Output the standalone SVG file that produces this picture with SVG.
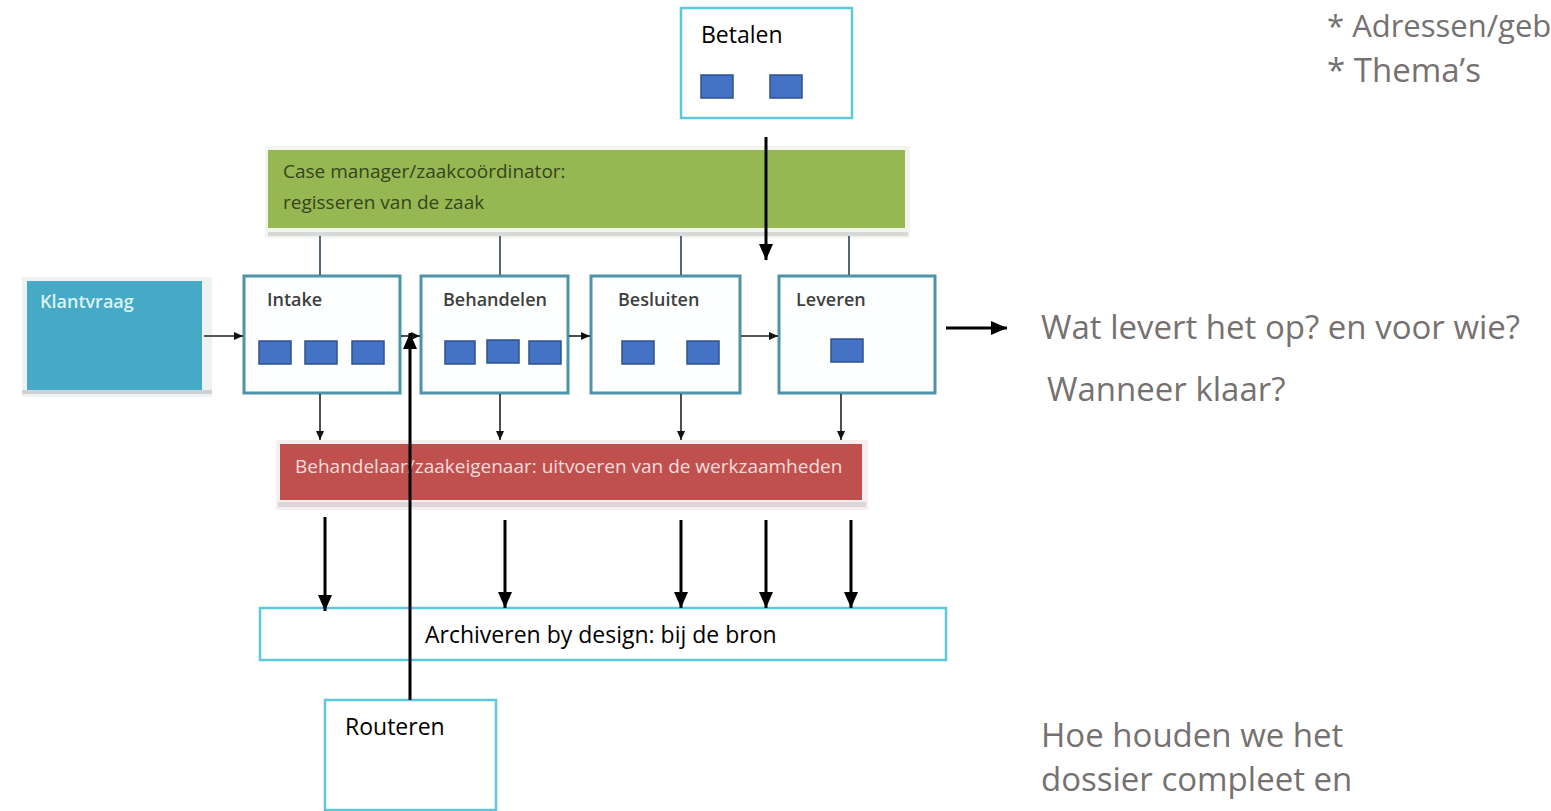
<svg xmlns="http://www.w3.org/2000/svg" width="1551" height="811" viewBox="0 0 1551 811">
<defs>
<marker id="big" markerUnits="userSpaceOnUse" markerWidth="16" markerHeight="18" refX="16" refY="7" orient="auto"><path d="M0,0 L16,7 L0,14 z" fill="#000"/></marker>
<marker id="small" markerUnits="userSpaceOnUse" markerWidth="10" markerHeight="10" refX="9" refY="4" orient="auto"><path d="M0,0 L9,4 L0,8 z" fill="#111"/></marker>
<style>
.proc{fill:#fdfefe;stroke:#4f93a8;stroke-width:3}
.sq{fill:#4472c4;stroke:#2f528f;stroke-width:1.5}
.lbl{font-family:"Open Sans","Liberation Sans",sans-serif;font-size:18px;fill:#3f3f3f;font-weight:600}
.cyan{fill:#fff;stroke:#5bc8dc;stroke-width:2.5}
.blk{font-family:"Open Sans","Liberation Sans",sans-serif;font-size:23px;fill:#000}
.gray{font-family:"Open Sans","Liberation Sans",sans-serif;font-size:33px;fill:#767171}
.bar{font-family:"Open Sans","Liberation Sans",sans-serif;font-size:19px}
.thin{stroke:#222;stroke-width:1.6;fill:none}
.vl{stroke:#55677a;stroke-width:2;fill:none}
.thick{stroke:#000;stroke-width:3;fill:none}
</style>
</defs>
<rect width="1551" height="811" fill="#fff"/>
<g id="manager">
<rect x="265" y="146" width="645" height="92" fill="#f2f4ee"/>
<rect x="268" y="232" width="640" height="4" fill="#d6d9d6"/>
<rect x="268" y="150" width="637" height="78" fill="#97b753"/>
<text class="bar" x="283" y="178" fill="#34451c">Case manager/zaakcoördinator:</text>
<text class="bar" x="283" y="209" fill="#34451c">regisseren van de zaak</text>
</g>
<g id="klantvraag">
<rect x="22" y="277" width="190" height="120" fill="#eef2f4"/>
<rect x="22" y="390" width="190" height="4" fill="#cfd3d6"/>
<rect x="27" y="281" width="175" height="109" fill="#46a9c6"/>
<text x="40" y="308" style="font-family:'Open Sans','Liberation Sans',sans-serif;font-size:18px;fill:#dff2f7;font-weight:600">Klantvraag</text>
</g>
<g id="intake">
<rect class="proc" x="244" y="276" width="156" height="117"/>
<text class="lbl" x="267" y="306">Intake</text>
<rect class="sq" x="259" y="341" width="32" height="23"/>
<rect class="sq" x="305" y="341" width="32" height="23"/>
<rect class="sq" x="352" y="341" width="32" height="23"/>
</g>
<g id="behandelen">
<rect class="proc" x="421" y="276" width="147" height="117"/>
<text class="lbl" x="443" y="306">Behandelen</text>
<rect class="sq" x="445" y="341" width="30" height="23"/>
<rect class="sq" x="487" y="340" width="32" height="23"/>
<rect class="sq" x="529" y="341" width="32" height="23"/>
</g>
<g id="besluiten">
<rect class="proc" x="591" y="276" width="149" height="117"/>
<text class="lbl" x="618" y="306">Besluiten</text>
<rect class="sq" x="622" y="341" width="32" height="23"/>
<rect class="sq" x="687" y="341" width="32" height="23"/>
</g>
<g id="leveren">
<rect class="proc" x="779" y="276" width="156" height="117"/>
<text class="lbl" x="796" y="306">Leveren</text>
<rect class="sq" x="831" y="339" width="32" height="23"/>
</g>
<g id="behandelaar">
<rect x="276" y="440" width="592" height="70" fill="#f6eeee"/>
<rect x="278" y="502" width="588" height="5" fill="#ddd6d6"/>
<rect x="280" y="444" width="582" height="56" fill="#c0504d"/>
<text class="bar" x="295" y="473" fill="#f6dcdc">Behandelaar/zaakeigenaar: uitvoeren van de werkzaamheden</text>
</g>
<g id="betalen">
<rect class="cyan" x="681" y="8" width="171" height="110"/>
<text class="blk" x="701" y="43">Betalen</text>
<rect class="sq" x="701" y="75" width="32" height="23"/>
<rect class="sq" x="770" y="75" width="32" height="23"/>
</g>
<g id="archiveren">
<rect class="cyan" x="260" y="608" width="686" height="52"/>
<text class="blk" x="425" y="643">Archiveren by design: bij de bron</text>
</g>
<g id="routeren">
<rect class="cyan" x="325" y="700" width="171" height="110"/>
<text class="blk" x="345" y="735">Routeren</text>
</g>
<g id="notes">
<text class="gray" x="1327" y="37" style="font-size:31px">* Adressen/geb</text>
<text class="gray" x="1327" y="82">* Thema’s</text>
<text class="gray" x="1041" y="339">Wat levert het op? en voor wie?</text>
<text class="gray" x="1047" y="401">Wanneer klaar?</text>
<text class="gray" x="1041" y="747">Hoe houden we het</text>
<text class="gray" x="1041" y="791">dossier compleet en</text>
</g>
<g id="connectors">
<line class="vl" x1="320" y1="236" x2="320" y2="275"/>
<line class="vl" x1="500" y1="236" x2="500" y2="275"/>
<line class="vl" x1="681" y1="236" x2="681" y2="275"/>
<line class="vl" x1="849" y1="236" x2="849" y2="275"/>
<line class="thin" x1="204" y1="336" x2="243" y2="336" marker-end="url(#small)"/>
<line class="thin" x1="401" y1="336" x2="420" y2="336" marker-end="url(#small)"/>
<line class="thin" x1="569" y1="336" x2="590" y2="336" marker-end="url(#small)"/>
<line class="thin" x1="741" y1="336" x2="778" y2="336" marker-end="url(#small)"/>
<line class="thin" x1="320" y1="394" x2="320" y2="440" marker-end="url(#small)"/>
<line class="thin" x1="500" y1="394" x2="500" y2="440" marker-end="url(#small)"/>
<line class="thin" x1="681" y1="394" x2="681" y2="440" marker-end="url(#small)"/>
<line class="thin" x1="841" y1="394" x2="841" y2="440" marker-end="url(#small)"/>
<line class="thick" x1="325" y1="517" x2="325" y2="611" marker-end="url(#big)"/>
<line class="thick" x1="505" y1="520" x2="505" y2="608" marker-end="url(#big)"/>
<line class="thick" x1="681" y1="520" x2="681" y2="608" marker-end="url(#big)"/>
<line class="thick" x1="766" y1="520" x2="766" y2="608" marker-end="url(#big)"/>
<line class="thick" x1="851" y1="520" x2="851" y2="608" marker-end="url(#big)"/>
<line class="thick" x1="410" y1="700" x2="410" y2="333" marker-end="url(#big)"/>
<line class="thick" x1="766" y1="137" x2="766" y2="260" marker-end="url(#big)"/>
<line class="thick" x1="946" y1="328" x2="1007" y2="328" marker-end="url(#big)"/>
</g>
</svg>
